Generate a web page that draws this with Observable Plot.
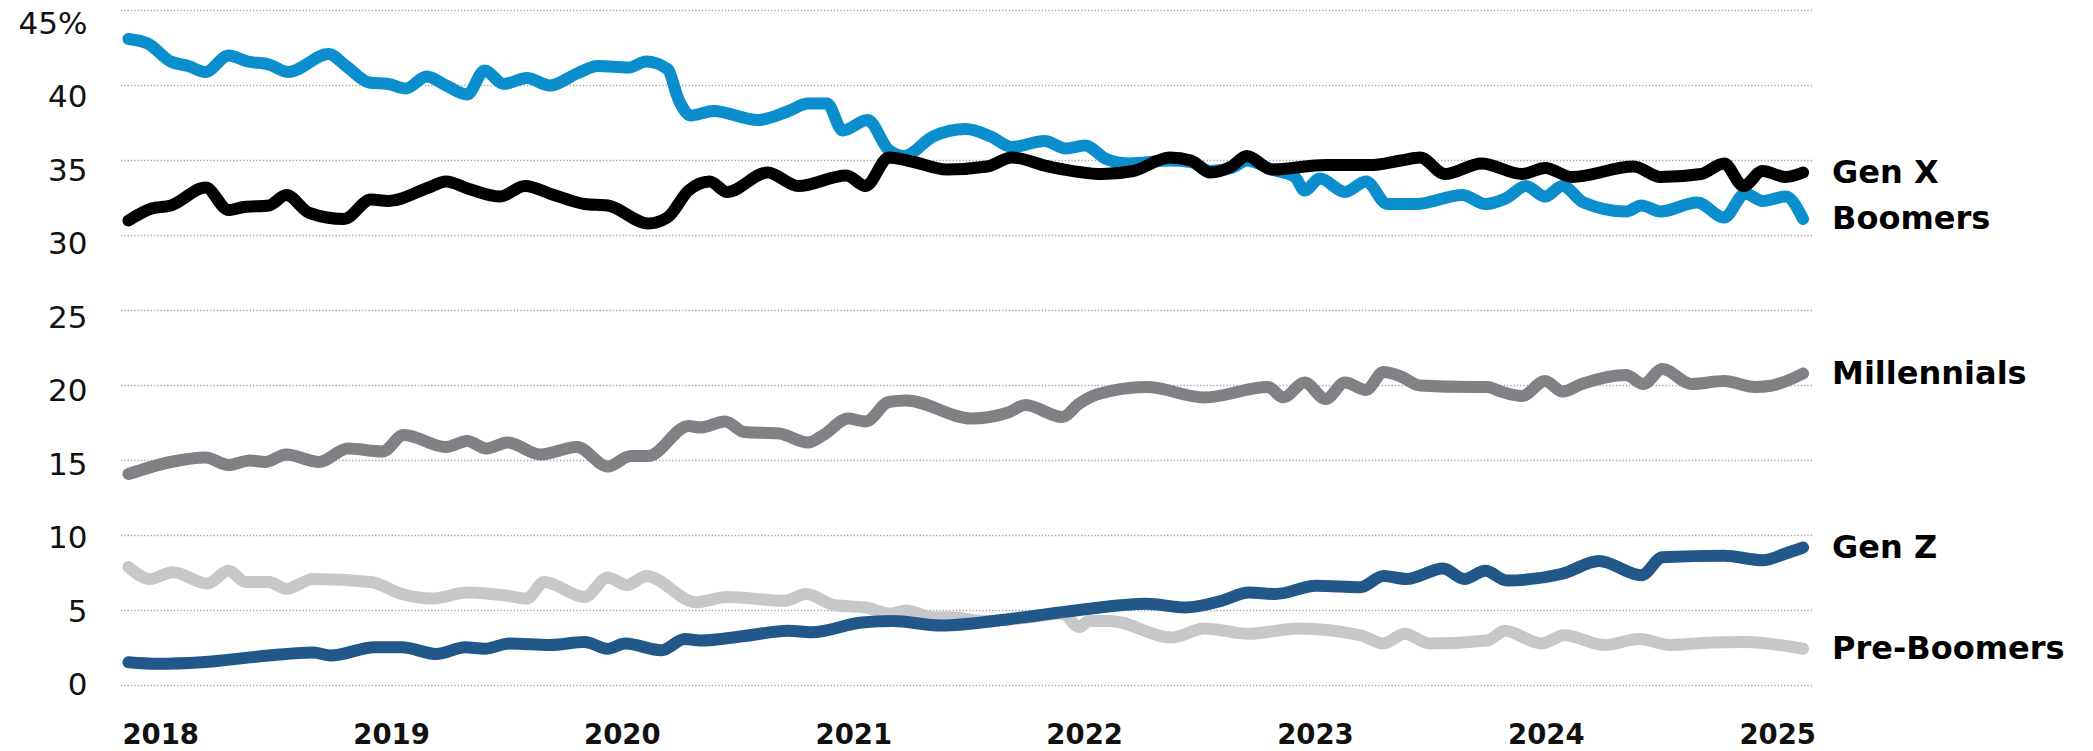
<!DOCTYPE html>
<html>
<head>
<meta charset="utf-8">
<script src="https://cdn.jsdelivr.net/npm/d3@7"></script>
<script src="https://cdn.jsdelivr.net/npm/@observablehq/plot@0.6"></script>
<style>
  html, body { margin: 0; padding: 0; background: #fff; }
  #chart svg { display: block; }
</style>
</head>
<body>
<div id="chart"></div>
<script>
// Share of total, by generation. Each point: [months since Jan 2018, percent]
const preBoomers = [
  [0,7.9],[1.1,7.1],[2.3,7.55],[4.1,6.8],[5.2,7.65],[6.1,6.9],[7.3,6.9],[8.2,6.45],[9.6,7.1],
  [12.6,6.9],[14.2,6.1],[15.8,5.8],[17.6,6.2],[19.6,6.0],[20.7,5.8],[21.6,6.9],[23.7,5.9],
  [24.9,7.2],[25.9,6.7],[26.9,7.3],[29.5,5.55],[31.1,5.9],[34.1,5.65],[35.2,6.1],[36.7,5.35],
  [38.3,5.2],[39.6,4.8],[40.4,5.0],[41.8,4.55],[42.7,4.55],[44.5,4.3],[46.5,4.5],[48.5,4.8],
  [49.4,3.9],[49.9,4.3],[51,4.3],[54.2,3.2],[55.9,3.8],[58.2,3.45],[60.8,3.8],[64,3.35],
  [65.2,2.8],[66.3,3.45],[67.6,2.8],[70.6,3.0],[71.5,3.65],[73.4,2.8],[74.6,3.35],[76.7,2.7],
  [78.5,3.1],[80.1,2.7],[82,2.85],[84,2.9],[87,2.45]
];
const millennials = [
  [0,14.1],[2.2,14.9],[4,15.2],[5.2,14.7],[6.3,15.0],[7.1,14.9],[8.2,15.4],[9.9,14.9],
  [11.4,15.8],[13.2,15.6],[14.3,16.7],[16.5,15.9],[17.6,16.3],[18.6,15.8],[19.7,16.2],
  [21.4,15.4],[23.3,15.9],[24.9,14.6],[26.1,15.3],[27,15.3],[29.1,17.3],[29.7,17.2],
  [31,17.6],[32,16.9],[33.8,16.8],[35.3,16.2],[36.1,16.7],[37.4,17.8],[38.3,17.6],
  [39.5,18.9],[40.4,19.0],[43.8,17.8],[45.7,18.2],[46.6,18.7],[48.5,17.9],[49.4,18.8],
  [50.3,19.4],[52.9,19.9],[55.9,19.2],[59.2,19.9],[60,19.2],[61.1,20.2],[62.2,19.1],
  [63.2,20.2],[64.3,19.7],[65.2,20.9],[66.1,20.6],[67.1,20.0],[69.7,19.9],[70.6,19.9],
  [71.3,19.6],[72.4,19.3],[73.6,20.3],[74.5,19.6],[75.5,20.1],[77.8,20.7],[78.7,20.1],
  [79.7,21.1],[81.2,20.1],[82.9,20.3],[84.5,19.9],[85.4,20.0],[87,20.8]
];
const boomers = [
  [0,43.1],[1,42.8],[2.2,41.6],[3.1,41.3],[4,40.9],[5.2,42.0],[6.2,41.6],[7.3,41.4],
  [8.3,40.9],[10.4,42.1],[11.3,41.3],[12.5,40.2],[13.5,40.1],[14.4,39.8],[15.5,40.6],
  [16.5,40.0],[17.6,39.4],[18.5,41.0],[19.5,40.1],[20.7,40.5],[21.9,40.0],[23.3,40.8],
  [24.4,41.3],[26,41.2],[26.9,41.6],[28,41.1],[28.6,39.0],[29.2,38.0],[30.4,38.3],
  [32.7,37.7],[34.3,38.3],[35.3,38.8],[36.3,38.8],[37.1,37.0],[38.4,37.7],[39.5,35.7],
  [40.3,35.3],[41.8,36.6],[43.5,37.1],[44.8,36.6],[45.9,35.9],[47.6,36.3],[48.7,35.8],
  [49.7,36.0],[50.8,35.1],[52,34.8],[54.1,35.0],[55.2,34.9],[56.2,34.3],[57.3,34.5],
  [58.1,35.0],[59.4,34.4],[60.6,33.9],[61.1,33.0],[61.9,33.8],[63.2,32.9],[64.3,33.6],
  [65.4,32.1],[66.9,32.1],[69.3,32.7],[70.5,32.1],[71.6,32.5],[72.6,33.3],[73.6,32.6],
  [74.5,33.3],[75.6,32.2],[77.8,31.6],[78.6,32.0],[79.6,31.6],[81.5,32.2],[82.9,31.2],
  [84,32.8],[84.9,32.3],[86.1,32.6],[87,31.1]
];
const genX = [
  [0,31.0],[1.2,31.8],[2.2,32.0],[4,33.2],[5.2,31.7],[6,31.9],[7.3,32.0],[8.2,32.7],
  [9.4,31.5],[11.2,31.1],[12.6,32.4],[13.5,32.3],[15.6,33.2],[16.5,33.6],[17.7,33.1],
  [19.3,32.6],[20.6,33.3],[22.1,32.7],[23.7,32.1],[24.9,32.0],[27,30.8],[28,31.2],
  [29.1,33.0],[30.2,33.6],[31.1,32.9],[33.2,34.2],[34.8,33.3],[37.3,34.0],[38.3,33.3],
  [39.5,35.2],[40.8,34.9],[42.5,34.4],[44.6,34.6],[45.9,35.2],[47.8,34.6],[50.6,34.1],
  [52.2,34.3],[54.1,35.2],[55.2,35.0],[56.2,34.2],[57.3,34.6],[58.1,35.3],[59.4,34.4],
  [62.2,34.7],[64.5,34.7],[66.1,35.0],[67.1,35.2],[68.4,34.1],[70.3,34.8],[72.4,34.1],
  [73.6,34.5],[75,33.9],[78.2,34.6],[79.6,33.9],[81.7,34.1],[82.9,34.8],[83.9,33.3],
  [84.9,34.3],[86.1,33.9],[87,34.2]
];
const genZ = [
  [0,1.55],[1.5,1.45],[3.8,1.55],[7.3,2.0],[9.6,2.2],[10.5,2.0],[12.8,2.55],[14.2,2.55],
  [16,2.1],[17.5,2.55],[18.5,2.45],[19.8,2.8],[21.9,2.7],[23.7,2.9],[24.9,2.45],[25.8,2.8],
  [27.7,2.35],[28.9,3.1],[29.7,3.0],[32,3.3],[34.3,3.65],[35.5,3.55],[38.1,4.2],[39.7,4.3],
  [42.2,4.0],[45.9,4.45],[49.2,5.0],[52.9,5.45],[54.9,5.2],[56.8,5.65],[58.2,6.2],
  [59.6,6.1],[61.7,6.65],[64,6.55],[65.2,7.3],[66.4,7.1],[68.3,7.8],[69.4,7.1],[70.5,7.65],
  [71.6,7.0],[74.5,7.45],[76.4,8.3],[78.6,7.35],[79.7,8.55],[82.9,8.65],[84.9,8.35],
  [86.1,8.8],[87,9.2]
];

// Series names and colours, listed in drawing order (last drawn on top)
const seriesNames = ["Pre-Boomers", "Millennials", "Boomers", "Gen X", "Gen Z"];
const seriesColors = ["#c7c8ca", "#808185", "#0a8ecd", "#000000", "#22578a"];
const seriesData = [preBoomers, millennials, boomers, genX, genZ];

const yTicks = [0, 5, 10, 15, 20, 25, 30, 35, 40, 45];
const yearTicks = [2018, 2019, 2020, 2021, 2022, 2023, 2024, 2025];

const start = Date.UTC(2018, 0, 1);
const monthMs = 30.4375 * 864e5;
const toDate = m => new Date(start + m * monthMs);

const rows = [];
seriesData.forEach((pts, i) => {
  pts.forEach(([m, v]) => rows.push({gen: seriesNames[i], date: toDate(m), value: v}));
});
const ends = seriesData.map((pts, i) => {
  const [m, v] = pts[pts.length - 1];
  return {gen: seriesNames[i], date: toDate(m), value: v};
});

// Y tick labels sit a little lower the higher they go up the axis
const yLabels = yTicks.map(t => Plot.text([t], {
  y: d => d,
  frameAnchor: "left",
  dx: -34,
  dy: t * 0.3,
  textAnchor: "end",
  text: d => d === 45 ? "45%" : String(d),
  fontSize: 31,
  fill: "#111"
}));

const chart = Plot.plot({
  width: 2093,
  height: 751,
  marginLeft: 121,
  marginRight: 281,
  marginTop: 10,
  marginBottom: 66,
  style: {background: "#fff", fontFamily: "'DejaVu Sans', sans-serif", color: "#111"},
  x: {type: "utc", domain: [new Date(Date.UTC(2017, 11, 21)), new Date(Date.UTC(2025, 3, 17))], axis: null},
  y: {domain: [0, 45], axis: null},
  color: {domain: seriesNames, range: seriesColors},
  marks: [
    Plot.ruleY(yTicks, {stroke: "#a3a3a3", strokeWidth: 1.3, strokeDasharray: "1.3,2"}),
    ...yLabels,
    Plot.axisX({
      ticks: yearTicks.map(y => new Date(Date.UTC(y, 0, 1))),
      tickFormat: d3.utcFormat("%Y"),
      tickSize: 0,
      tickPadding: 39,
      textAnchor: "start",
      dx: -6,
      fontSize: 27.5,
      fontWeight: "bold",
      label: null
    }),
    Plot.line(rows, {
      x: "date", y: "value", z: "gen", stroke: "gen",
      strokeWidth: 12, curve: "monotone-x",
      strokeLinecap: "round", strokeLinejoin: "round"
    }),
    Plot.text(ends, {
      x: "date", y: "value", text: "gen",
      textAnchor: "start", dx: 29,
      fontSize: 32, fontWeight: "bold", fill: "#000"
    })
  ]
});

document.getElementById("chart").appendChild(chart);
</script>
</body>
</html>
